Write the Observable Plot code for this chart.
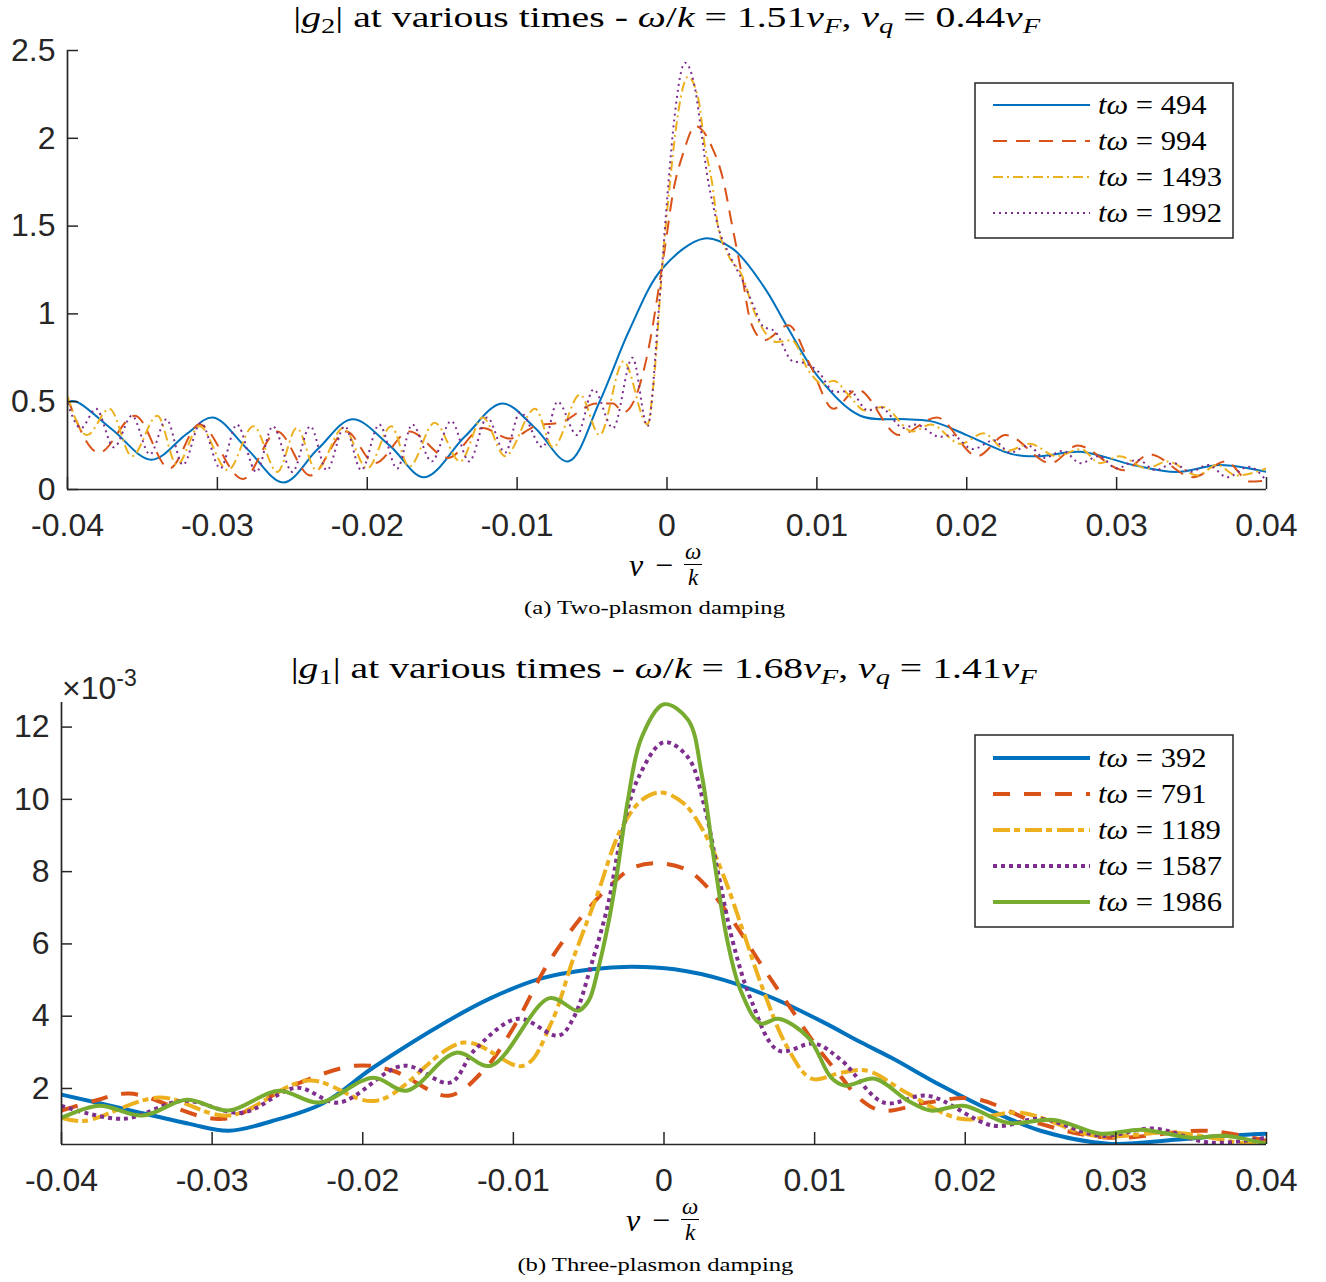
<!DOCTYPE html>
<html><head><meta charset="utf-8">
<script src="https://cdn.jsdelivr.net/npm/d3@7"></script>
<script src="https://cdn.jsdelivr.net/npm/@observablehq/plot@0.6"></script>
<style>
body{margin:0;background:#fff;}
#root{position:relative;width:1326px;height:1282px;overflow:hidden;background:#fff;}
.abs{position:absolute;}
.serif{font-family:"Liberation Serif","DejaVu Serif",serif;color:#000;}
.ctr{text-align:center;white-space:nowrap;}
.ctr > span{display:inline-block;transform-origin:50% 50%;}
.sb{font-size:0.72em;position:relative;top:0.28em;}
.frac{display:inline-flex;flex-direction:column;align-items:center;font-size:23px;font-style:italic;line-height:22px;vertical-align:middle;}
.bar{width:18px;height:1.6px;background:#000;margin:1px 0 2px 0;}
.xlab{display:flex;align-items:center;justify-content:center;height:60px;font-size:32px;white-space:nowrap;}
.mn{margin:0 11px 0 12px;}
</style></head><body><div id="root"></div>
<script>
// ---------- tick values / labels ----------
const xTicks = [-0.04,-0.03,-0.02,-0.01,0,0.01,0.02,0.03,0.04];
const xTickLabels = ["-0.04","-0.03","-0.02","-0.01","0","0.01","0.02","0.03","0.04"];
const yTicksA = [0,0.5,1,1.5,2,2.5];
const yTickLabelsA = ["0","0.5","1","1.5","2","2.5"];
const yTicksB = [2,4,6,8,10,12];          // units of 1e-3
const yTickLabelsB = ["2","4","6","8","10","12"];

// ---------- panel (a): |g2|, pairs [v - w/k, |g2|] ----------
const timesA = [494, 994, 1493, 1992];
const a494 = [[-0.04,0.50],[-0.0394,0.50],[-0.037,0.34],[-0.0344,0.17],[-0.032,0.32],[-0.0303,0.41],[-0.028,0.23],[-0.0256,0.04],[-0.0233,0.23],[-0.021,0.40],[-0.0185,0.25],[-0.0162,0.07],[-0.0135,0.30],[-0.011,0.49],[-0.0088,0.35],[-0.0066,0.16],[-0.0045,0.50],[-0.0025,0.91],[-0.0003,1.26],[0.0025,1.43],[0.0044,1.37],[0.0065,1.15],[0.008,0.93],[0.0102,0.63],[0.0129,0.42],[0.016,0.40],[0.0178,0.385],[0.020,0.31],[0.0231,0.20],[0.0249,0.19],[0.0276,0.215],[0.0311,0.14],[0.034,0.10],[0.0369,0.14],[0.04,0.10]];
const a994 = [[-0.04,0.52],[-0.0379,0.21],[-0.0355,0.42],[-0.0332,0.12],[-0.0312,0.37],[-0.0283,0.06],[-0.026,0.33],[-0.0238,0.08],[-0.0214,0.33],[-0.0195,0.15],[-0.0172,0.33],[-0.0146,0.18],[-0.0123,0.35],[-0.0105,0.29],[-0.0088,0.36],[-0.007,0.385],[-0.0047,0.49],[-0.0036,0.49],[-0.0029,0.44],[-0.0018,0.60],[-0.0011,0.86],[-0.0006,1.12],[-0.0001,1.40],[0.0004,1.69],[0.0011,1.92],[0.0019,2.07],[0.003,1.95],[0.0037,1.78],[0.0044,1.48],[0.005,1.22],[0.0056,0.95],[0.0065,0.85],[0.0081,0.935],[0.0096,0.70],[0.0111,0.46],[0.0127,0.57],[0.0155,0.31],[0.018,0.41],[0.0207,0.19],[0.0226,0.31],[0.0256,0.15],[0.0274,0.25],[0.0305,0.11],[0.0322,0.20],[0.0351,0.07],[0.0373,0.16],[0.0389,0.045],[0.04,0.05]];
const a1493 = [[-0.04,0.53],[-0.0387,0.31],[-0.0372,0.46],[-0.0357,0.19],[-0.034,0.42],[-0.0327,0.14],[-0.0312,0.36],[-0.0293,0.11],[-0.0276,0.36],[-0.026,0.10],[-0.0247,0.35],[-0.0234,0.11],[-0.0216,0.35],[-0.020,0.12],[-0.0184,0.36],[-0.0172,0.13],[-0.0155,0.38],[-0.0138,0.16],[-0.0123,0.41],[-0.0108,0.19],[-0.0088,0.46],[-0.0076,0.24],[-0.0058,0.54],[-0.0045,0.31],[-0.0029,0.73],[-0.0013,0.37],[-0.0009,0.60],[-0.0003,1.29],[0.0002,1.75],[0.0007,2.12],[0.0014,2.35],[0.0021,2.22],[0.0025,1.97],[0.003,1.75],[0.0034,1.50],[0.004,1.35],[0.0051,1.20],[0.0057,1.04],[0.0065,0.90],[0.0073,0.84],[0.0083,0.85],[0.0095,0.67],[0.0104,0.60],[0.0111,0.62],[0.0122,0.53],[0.0132,0.45],[0.0144,0.47],[0.0164,0.33],[0.0176,0.37],[0.0196,0.26],[0.0211,0.32],[0.0227,0.22],[0.0242,0.26],[0.026,0.19],[0.0276,0.23],[0.0289,0.15],[0.0302,0.19],[0.032,0.12],[0.0334,0.16],[0.0354,0.08],[0.0367,0.14],[0.038,0.08],[0.04,0.12]];
const a1992 = [[-0.04,0.49],[-0.0391,0.35],[-0.0381,0.46],[-0.0369,0.24],[-0.0357,0.42],[-0.0345,0.20],[-0.0334,0.40],[-0.0323,0.14],[-0.0311,0.38],[-0.0298,0.12],[-0.0287,0.37],[-0.0274,0.10],[-0.0263,0.36],[-0.025,0.10],[-0.0238,0.36],[-0.0227,0.11],[-0.0215,0.36],[-0.0204,0.11],[-0.0192,0.37],[-0.018,0.12],[-0.017,0.37],[-0.0157,0.16],[-0.0144,0.39],[-0.0132,0.16],[-0.012,0.41],[-0.0108,0.21],[-0.0098,0.44],[-0.0083,0.24],[-0.0073,0.50],[-0.006,0.31],[-0.0049,0.57],[-0.0036,0.35],[-0.0023,0.75],[-0.0013,0.36],[-0.0005,1.08],[0.0001,1.75],[0.0005,2.12],[0.0012,2.43],[0.0019,2.27],[0.0023,2.03],[0.0027,1.78],[0.0031,1.61],[0.0034,1.50],[0.0042,1.33],[0.0051,1.18],[0.0058,1.04],[0.0064,0.93],[0.0072,0.90],[0.0084,0.73],[0.0092,0.72],[0.0101,0.67],[0.0112,0.555],[0.0122,0.56],[0.0134,0.45],[0.0142,0.47],[0.0158,0.35],[0.0166,0.37],[0.0182,0.30],[0.019,0.31],[0.0204,0.23],[0.0218,0.28],[0.0229,0.21],[0.0241,0.25],[0.0252,0.18],[0.0264,0.22],[0.0276,0.15],[0.0288,0.19],[0.03,0.12],[0.0314,0.17],[0.0326,0.11],[0.0338,0.15],[0.0349,0.10],[0.0361,0.14],[0.0374,0.07],[0.0388,0.13],[0.04,0.05]];

// ---------- panel (b): |g1| (x 1e-3), pairs [v - w/k, |g1|*1e3] ----------
const timesB = [392, 791, 1189, 1587, 1986];
const b392 = [[-0.04,1.83],[-0.0359,1.44],[-0.0315,1.02],[-0.0289,0.83],[-0.026,1.10],[-0.0226,1.60],[-0.0193,2.58],[-0.0143,3.88],[-0.0115,4.50],[-0.0082,5.04],[-0.0048,5.30],[-0.0022,5.37],[0.0007,5.30],[0.004,5.00],[0.0073,4.49],[0.0106,3.83],[0.0131,3.27],[0.0151,2.85],[0.0184,2.08],[0.0217,1.39],[0.025,0.83],[0.0295,0.47],[0.0339,0.58],[0.0372,0.69],[0.04,0.75]];
const b791 = [[-0.04,1.39],[-0.0378,1.66],[-0.0355,1.86],[-0.0293,1.16],[-0.025,2.02],[-0.0205,2.63],[-0.018,2.49],[-0.0143,1.80],[-0.012,2.49],[-0.01,3.68],[-0.0077,5.46],[-0.0055,6.73],[-0.0037,7.56],[-0.002,8.12],[-0.0002,8.23],[0.0016,8.03],[0.0029,7.56],[0.0047,6.56],[0.0064,5.46],[0.0082,4.35],[0.0102,3.13],[0.0118,2.30],[0.0129,1.75],[0.0144,1.39],[0.0175,1.61],[0.0206,1.72],[0.025,1.02],[0.0295,0.64],[0.0361,0.83],[0.04,0.55]];
const b1189 = [[-0.04,1.19],[-0.0385,1.10],[-0.0335,1.75],[-0.0289,1.25],[-0.0236,2.22],[-0.0191,1.66],[-0.0133,3.27],[-0.0093,2.63],[-0.0075,3.80],[-0.006,5.62],[-0.0044,7.40],[-0.0029,9.14],[-0.0015,9.97],[-0.0002,10.19],[0.0013,9.89],[0.0027,9.06],[0.004,7.84],[0.0053,6.29],[0.0066,4.71],[0.0082,3.13],[0.0098,2.27],[0.0118,2.44],[0.0135,2.49],[0.0162,1.86],[0.0197,1.16],[0.0237,1.33],[0.0286,0.69],[0.0339,0.78],[0.0388,0.47],[0.04,0.50]];
const b1587 = [[-0.04,1.52],[-0.0359,1.16],[-0.0319,1.66],[-0.028,1.33],[-0.0244,2.02],[-0.0216,1.61],[-0.0173,2.63],[-0.0142,2.16],[-0.0126,3.05],[-0.0097,3.93],[-0.007,3.46],[-0.006,3.96],[-0.0048,5.46],[-0.0037,7.12],[-0.0029,8.86],[-0.0017,10.6],[0.0,11.58],[0.0016,11.16],[0.0027,9.78],[0.0036,7.95],[0.0046,6.01],[0.0058,4.43],[0.0076,3.05],[0.01,3.24],[0.0118,2.77],[0.0146,1.61],[0.0175,1.80],[0.0219,0.97],[0.025,1.16],[0.029,0.69],[0.0325,0.89],[0.0363,0.50],[0.04,0.64]];
const b1986 = [[-0.04,1.19],[-0.0375,1.52],[-0.0346,1.25],[-0.0317,1.69],[-0.0289,1.39],[-0.0256,1.94],[-0.0229,1.61],[-0.0193,2.30],[-0.0171,1.94],[-0.0138,2.99],[-0.0115,2.63],[-0.0076,4.50],[-0.0057,4.15],[-0.005,4.43],[-0.0044,5.26],[-0.0037,6.56],[-0.0031,8.00],[-0.0024,9.97],[-0.0015,11.70],[0.0,12.63],[0.0016,12.20],[0.0025,10.70],[0.0033,8.40],[0.0042,6.10],[0.0051,4.70],[0.0064,3.80],[0.0076,3.93],[0.0096,3.40],[0.0111,2.30],[0.012,2.08],[0.014,2.27],[0.0162,1.66],[0.0177,1.39],[0.0199,1.52],[0.0228,1.05],[0.0259,1.13],[0.029,0.75],[0.0317,0.86],[0.035,0.64],[0.0372,0.69],[0.04,0.47]];

// ---------- styles ----------
const colors = ["#0072BD","#D95319","#EDB120","#7E2F8E","#77AC30"];
const dashA = [null, "14,9", "10,4,2,4", "2,4"];
const dashB = [null, "17,14", "17,4,6,5", "4,4", null];
const curvesA = ["catmull-rom", "monotone-x", "monotone-x", "monotone-x"];
const curvesB = ["catmull-rom", "catmull-rom", "catmull-rom", "catmull-rom", "catmull-rom"];
const axisColor = "#262626";
const serifFont = '"Liberation Serif","DejaVu Serif",serif';
const sansFont = '"Liberation Sans",Arial,Helvetica,sans-serif';

const root = document.getElementById("root");
const xLabelMap = new Map(xTicks.map((t,i)=>[t, xTickLabels[i]]));

function panel(cfg) {
  const W = 1326;
  const ph = cfg.height - cfg.mt - cfg.mb, pw = W - cfg.ml - cfg.mr;
  const yMap = new Map(cfg.yTicks.map((t,i)=>[t, cfg.yLabels[i]]));
  const marks = [];
  cfg.series.forEach((s, i) => {
    marks.push(Plot.line(s.map(([v,g]) => ({v, g})), {
      x: "v", y: "g", stroke: colors[i], strokeWidth: cfg.lw,
      strokeDasharray: cfg.dashes[i] || undefined, strokeLinecap: "butt",
      strokeLinejoin: "round", curve: cfg.curves[i], clip: true
    }));
  });
  marks.push(Plot.tickX(xTicks, {x: d => d, insetTop: ph - 12, stroke: axisColor, strokeWidth: 1.5}));
  marks.push(Plot.tickY(cfg.yTicks, {y: d => d, insetRight: pw - 11, stroke: axisColor, strokeWidth: 1.5}));
  marks.push(Plot.ruleY([cfg.yDomain[0]], {stroke: axisColor, strokeWidth: 1.7}));
  marks.push(Plot.ruleX([xTicks[0]], {stroke: axisColor, strokeWidth: 1.7}));
  marks.push(Plot.axisX({ticks: xTicks, tickFormat: d => xLabelMap.get(d), tickSize: 0, tickPadding: 24, label: null}));
  marks.push(Plot.axisY({ticks: cfg.yTicks, tickFormat: d => yMap.get(d), tickSize: 0, tickPadding: 12, label: null}));
  const svg = Plot.plot({
    width: W, height: cfg.height,
    marginLeft: cfg.ml, marginRight: cfg.mr, marginTop: cfg.mt, marginBottom: cfg.mb,
    x: {domain: [xTicks[0], xTicks[xTicks.length-1]]},
    y: {domain: cfg.yDomain},
    style: {fontFamily: sansFont, fontSize: "32px", color: axisColor, background: "transparent", overflow: "visible"},
    marks
  });
  svg.style.position = "absolute";
  svg.style.left = "0px";
  svg.style.top = cfg.top + "px";
  root.appendChild(svg);
}

panel({series: [a494, a994, a1493, a1992], dashes: dashA, curves: curvesA, lw: 2,
  top: 0, height: 560, mt: 50, mb: 71, ml: 67, mr: 60,
  yDomain: [0, 2.5], yTicks: yTicksA, yLabels: yTickLabelsA});
panel({series: [b392, b791, b1189, b1587, b1986], dashes: dashB, curves: curvesB, lw: 4,
  top: 650, height: 560, mt: 52, mb: 66, ml: 61, mr: 60,
  yDomain: [0.45, 12.68], yTicks: yTicksB, yLabels: yTickLabelsB});

function legend(times, dashes, lw, left, top, w, h, row0) {
  const svg = d3.create("svg").attr("width", w + 4).attr("height", h + 4)
    .style("position", "absolute").style("left", (left - 2) + "px").style("top", (top - 2) + "px");
  svg.append("rect").attr("x", 2).attr("y", 2).attr("width", w).attr("height", h)
    .attr("fill", "#fff").attr("stroke", axisColor).attr("stroke-width", 1.5);
  const texts = [];
  times.forEach((t, i) => {
    const cy = 2 + row0 + i * 36;
    svg.append("line").attr("x1", 20).attr("x2", 117).attr("y1", cy).attr("y2", cy)
      .attr("stroke", colors[i]).attr("stroke-width", lw)
      .attr("stroke-dasharray", dashes[i] || null);
    const tx = svg.append("text").attr("x", 125).attr("y", cy + 9)
      .attr("font-family", serifFont).attr("font-size", 28).attr("fill", "#000");
    tx.append("tspan").attr("font-style", "italic").text("tω");
    tx.append("tspan").text(" = " + t);
    texts.push(tx);
  });
  root.appendChild(svg.node());
  // stretch glyphs horizontally to the reference's wider math font
  const longest = d3.max(texts, tx => tx.node().getComputedTextLength());
  const k = 124 / longest;
  texts.forEach(tx => {
    const L = tx.node().getComputedTextLength();
    tx.attr("textLength", L * k).attr("lengthAdjust", "spacingAndGlyphs");
  });
}
legend(timesA, dashA, 2, 975, 83, 258, 155, 22);
legend(timesB, dashB, 4, 975, 735, 258, 192, 23);

function addDiv(html, cls, style) {
  const d = document.createElement("div");
  d.className = cls;
  d.setAttribute("style", style);
  d.innerHTML = html;
  root.appendChild(d);
  return d;
}
function fitX(div, target) {
  const span = div.querySelector("span");
  const w = span.getBoundingClientRect().width;
  span.style.transform = "scaleX(" + (target / w) + ")";
}

const t1 = addDiv('<span>|<i>g</i><span class="sb">2</span>| at various times - <i>ω</i>/<i>k</i> = 1.51<i>v</i><span class="sb"><i>F</i></span>, <i>v</i><span class="sb"><i>q</i></span> = 0.44<i>v</i><span class="sb"><i>F</i></span></span>',
  "abs serif ctr", "left:0;width:1333px;top:2px;font-size:29px;line-height:30px;");
fitX(t1, 747);
const t2 = addDiv('<span>|<i>g</i><span class="sb">1</span>| at various times - <i>ω</i>/<i>k</i> = 1.68<i>v</i><span class="sb"><i>F</i></span>, <i>v</i><span class="sb"><i>q</i></span> = 1.41<i>v</i><span class="sb"><i>F</i></span></span>',
  "abs serif ctr", "left:0;width:1327px;top:653px;font-size:29px;line-height:30px;");
fitX(t2, 746);

const xl = '<i>v</i><span class="mn">−</span><span class="frac"><span>ω</span><span class="bar"></span><span>k</span></span>';
addDiv(xl, "abs serif xlab", "left:0;width:1331px;top:535px;");
addDiv(xl, "abs serif xlab", "left:0;width:1325px;top:1190px;");

const c1 = addDiv('<span>(a) Two-plasmon damping</span>', "abs serif ctr", "left:0;width:1309px;top:596px;font-size:19px;line-height:24px;");
fitX(c1, 261);
const c2 = addDiv('<span>(b) Three-plasmon damping</span>', "abs serif ctr", "left:0;width:1310px;top:1253px;font-size:19px;line-height:24px;");
fitX(c2, 276);

addDiv('×10<span style="font-size:23px;position:relative;top:-13px;">-3</span>', "abs",
  "left:62px;top:670px;font-family:" + sansFont.replace(/"/g, "'") + ";font-size:32px;line-height:36px;color:#262626;white-space:nowrap;");
</script></body></html>
